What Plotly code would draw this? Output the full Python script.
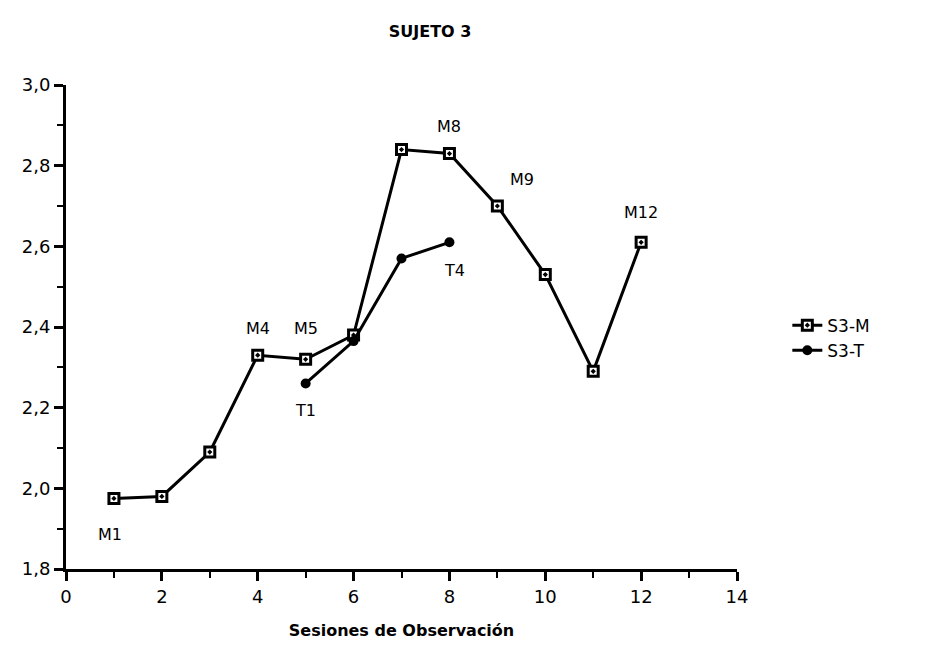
import plotly.graph_objects as go

# Session numbers and scores for subject 3
sessions_m = [1, 2, 3, 4, 5, 6, 7, 8, 9, 10, 11, 12]
scores_m = [1.975, 1.98, 2.09, 2.33, 2.32, 2.38, 2.84, 2.83, 2.70, 2.53, 2.29, 2.61]

sessions_t = [5, 6, 7, 8]
scores_t = [2.26, 2.365, 2.57, 2.61]

# Point labels: (series, session, text)
point_labels = [
    ("M", 1, "M1"),
    ("M", 4, "M4"),
    ("M", 5, "M5"),
    ("M", 8, "M8"),
    ("M", 9, "M9"),
    ("M", 12, "M12"),
    ("T", 5, "T1"),
    ("T", 8, "T4"),
]
# pixel offsets of each label from its point
label_offsets = {
    "M1": (-4, -36), "M4": (0, 27), "M5": (0, 31), "M8": (0, 27),
    "M9": (25, 27), "M12": (0, 30), "T1": (0, -27), "T4": (5, -28),
}

x_ticks = [0, 2, 4, 6, 8, 10, 12, 14]
y_ticks = [1.8, 2.0, 2.2, 2.4, 2.6, 2.8, 3.0]

FONT = "DejaVu Sans, Liberation Sans, Arial, sans-serif"

fig = go.Figure()
fig.add_trace(go.Scatter(
    x=sessions_m, y=scores_m, name="S3-M", mode="lines+markers",
    line=dict(color="black", width=3),
    marker=dict(symbol="square-dot", size=10, color="white",
                line=dict(color="black", width=3)),
))
fig.add_trace(go.Scatter(
    x=sessions_t, y=scores_t, name="S3-T", mode="lines+markers",
    line=dict(color="black", width=3),
    marker=dict(symbol="circle", size=10, color="black"),
))

series = {"M": dict(zip(sessions_m, scores_m)), "T": dict(zip(sessions_t, scores_t))}
for s, xv, txt in point_labels:
    dx, dy = label_offsets[txt]
    fig.add_annotation(
        x=xv, y=series[s][xv], text=txt, showarrow=False,
        xshift=dx, yshift=dy,
        font=dict(family=FONT, size=16, color="black"),
    )

fig.update_layout(
    width=931, height=649,
    margin=dict(l=66, r=194, t=85, b=80),
    paper_bgcolor="white", plot_bgcolor="white",
    separators=",.",
    font=dict(family=FONT, color="black", size=16),
    title=dict(text="<b>SUJETO 3</b>", x=0.462, xref="container",
               y=0.951, yref="container", yanchor="middle",
               font=dict(family=FONT, size=16, color="black")),
    showlegend=True,
    legend=dict(x=1.075, y=0.477, xanchor="left", yanchor="middle",
                font=dict(family=FONT, size=17, color="black"),
                bgcolor="rgba(0,0,0,0)", tracegroupgap=0, itemwidth=30),
)

fig.update_xaxes(
    range=[0, 14], tickvals=x_ticks, ticktext=[str(v) for v in x_ticks],
    showline=True, linecolor="black", linewidth=3,
    ticks="outside", ticklen=9, tickwidth=2.5, tickcolor="black",
    minor=dict(dtick=1, ticks="outside", ticklen=6, tickwidth=2, tickcolor="black"),
    showgrid=False, zeroline=False,
    tickfont=dict(family=FONT, size=18, color="black"),
    title=dict(text="<b>Sesiones de Observación</b>", standoff=20,
               font=dict(family=FONT, size=16, color="black")),
)
fig.update_yaxes(
    range=[1.8, 3.0], tickvals=y_ticks, tickformat=".1f",
    showline=True, linecolor="black", linewidth=3,
    ticks="outside", ticklen=9, tickwidth=2.5, tickcolor="black",
    minor=dict(dtick=0.1, ticks="outside", ticklen=6, tickwidth=2, tickcolor="black"),
    showgrid=False, zeroline=False,
    tickfont=dict(family=FONT, size=18, color="black"),
)

fig.write_html("out.html")
